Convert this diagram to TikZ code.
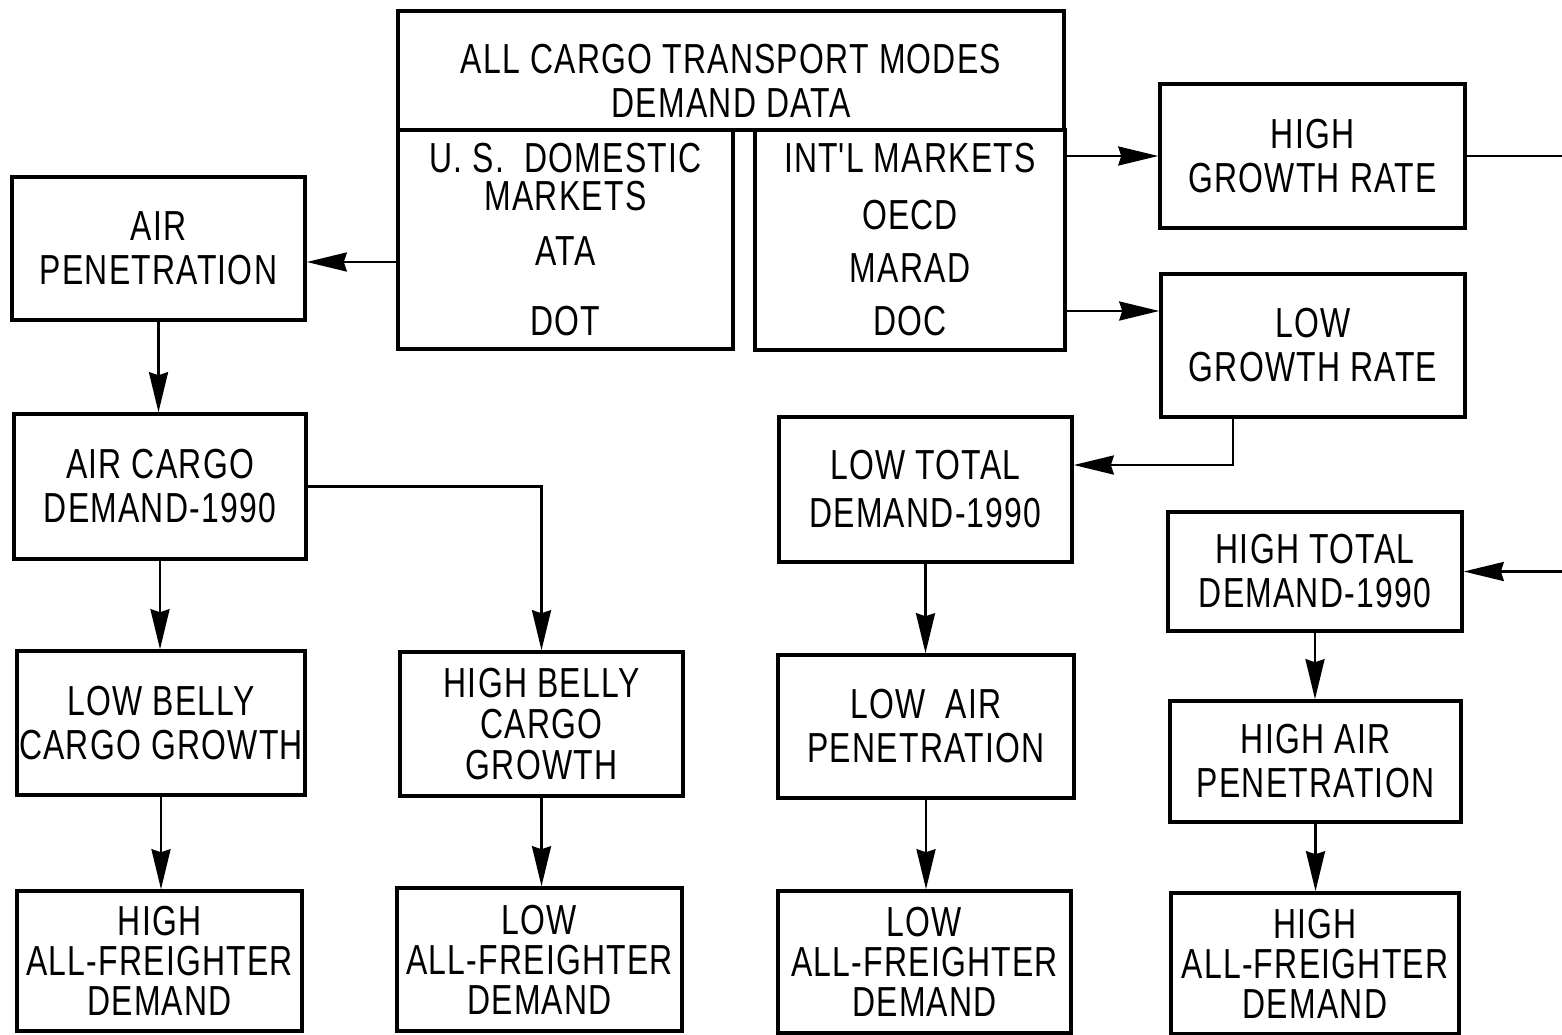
\documentclass[tikz,border=0pt]{standalone}
\usepackage{fontspec}
\setmainfont[FakeStretch=0.76,LetterSpace=3]{Liberation Sans}
\usetikzlibrary{arrows.meta,calc}
\begin{document}
\begin{tikzpicture}[x=1pt,y=-1pt,
  box/.style={draw,line width=3.6pt,inner sep=0pt,align=center,
    font=\fontsize{42}{44}\selectfont},
  arr/.style={line width=2.6pt,-{Stealth[length=40pt,width=19pt,inset=3pt]}}]
\useasboundingbox (0,0) rectangle (1562,1034);

% top data boxes
\node[box,minimum width=666pt,minimum height=119pt] (top) at (731,70.5)
  {\rule{0pt}{49pt}ALL CARGO TRANSPORT MODES\\DEMAND DATA};
\node[box,minimum width=335pt,minimum height=219pt] (usdom) at (565.5,239.5)
  {U. S.\ \ DOMESTIC\\[-6pt]MARKETS\\[11pt]ATA\\[26pt]DOT};
\node[box,minimum width=310pt,minimum height=220pt] (intl) at (910,240)
  {INT\textquotesingle L MARKETS\\[13pt]OECD\\[9pt]MARAD\\[9pt]DOC};

% growth rates
\node[box,minimum width=305pt,minimum height=144pt] (hgr) at (1312.5,156)
  {HIGH\\GROWTH RATE};
\node[box,minimum width=304pt,minimum height=143pt] (lgr) at (1313,345.5)
  {LOW\\GROWTH RATE};

% left column
\node[box,minimum width=293pt,minimum height=143pt] (airpen) at (158.5,248.5)
  {AIR\\PENETRATION};
\node[box,minimum width=292pt,minimum height=145pt] (aircargo) at (160,486.5)
  {AIR CARGO\\DEMAND-1990};
\node[box,minimum width=288pt,minimum height=144pt] (lowbelly) at (161,723)
  {LOW BELLY\\CARGO GROWTH};
\node[box,minimum width=283pt,minimum height=144pt] (highbelly) at (541.5,724)
  {HIGH BELLY\\[-3pt]CARGO\\[-3pt]GROWTH};
\node[box,minimum width=285pt,minimum height=140pt] (hafl) at (159.5,961)
  {HIGH\\[-4pt]ALL-FREIGHTER\\[-4pt]DEMAND};
\node[box,minimum width=285pt,minimum height=143pt] (lafm) at (539.5,959.5)
  {LOW\\[-4pt]ALL-FREIGHTER\\[-4pt]DEMAND};

% low total column
\node[box,minimum width=293pt,minimum height=145pt] (ltd) at (925.5,489.5)
  {LOW TOTAL\\[4pt]DEMAND-1990};
\node[box,minimum width=296pt,minimum height=143pt] (lap) at (926,726.5)
  {LOW\ \ AIR\\PENETRATION};
\node[box,minimum width=293pt,minimum height=142pt] (lafr) at (924.5,962)
  {LOW\\[-4pt]ALL-FREIGHTER\\[-4pt]DEMAND};

% high total column
\node[box,minimum width=294pt,minimum height=119pt] (htd) at (1315,571.5)
  {HIGH TOTAL\\DEMAND-1990};
\node[box,minimum width=291pt,minimum height=121pt] (hap) at (1315.5,761.5)
  {HIGH AIR\\PENETRATION};
\node[box,minimum width=288pt,minimum height=141pt] (hafr) at (1315,963.5)
  {HIGH\\[-4pt]ALL-FREIGHTER\\[-4pt]DEMAND};

% connectors
\coordinate (a1) at ([yshift=-22.5pt]usdom.west);
\draw[arr] (a1) -- (a1 -| airpen.east);
\draw[arr] (hgr.west -| intl.east) -- (hgr.west);
\coordinate (a3) at ([yshift=-71pt]intl.east);
\draw[arr] (a3) -- (a3 -| lgr.west);
\draw[arr] (hgr.east) -- ++(140,0) |- (htd.east);
\coordinate (a5) at ([xshift=-80pt]lgr.south);
\draw[arr] (a5) |- ([yshift=24.5pt]ltd.east);

\draw[arr] (airpen.south) -- (airpen.south |- aircargo.north);
\draw[arr] (aircargo.south) -- (aircargo.south |- lowbelly.north);
\draw[arr] (aircargo.east) -| (highbelly.north);
\draw[arr] (lowbelly.south) -- (lowbelly.south |- hafl.north);
\draw[arr] (highbelly.south) -- (highbelly.south |- lafm.north);

\draw[arr] (ltd.south) -- (ltd.south |- lap.north);
\draw[arr] (lap.south) -- (lap.south |- lafr.north);
\draw[arr] (htd.south) -- (htd.south |- hap.north);
\draw[arr] (hap.south) -- (hap.south |- hafr.north);
\end{tikzpicture}
\end{document}
